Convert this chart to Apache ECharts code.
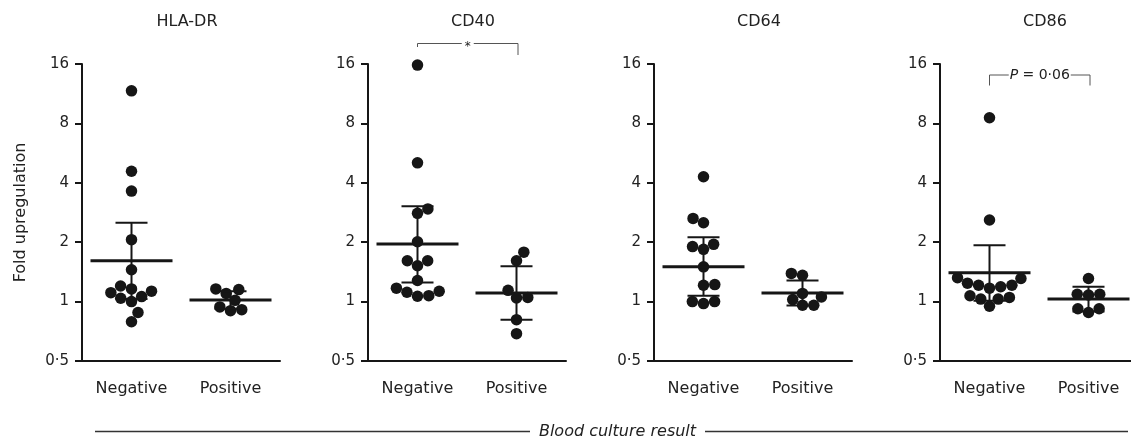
<!DOCTYPE html>
<html>
<head>
<meta charset="utf-8">
<script src="https://cdn.jsdelivr.net/npm/echarts@6/dist/echarts.min.js"></script>
<style>
html,body{margin:0;padding:0;background:#fff;}
#chart{width:1131px;height:439px;}
</style>
</head>
<body>
<div id="chart"></div>
<script>
// ---------- data ----------
const panels = ['HLA-DR', 'CD40', 'CD64', 'CD86'];
const groups = ['Negative', 'Positive'];
const yTicks = [0.5, 1, 2, 4, 8, 16];

const hlaNeg  = [11.7, 4.58, 3.63, 2.06, 1.45, 1.20, 1.16, 1.13, 1.11, 1.06, 1.04, 1.00, 0.88, 0.79];
const hlaPos  = [1.16, 1.15, 1.10, 1.015, 0.94, 0.91, 0.90];
const cd40Neg = [15.8, 5.05, 2.95, 2.80, 2.01, 1.61, 1.61, 1.52, 1.28, 1.17, 1.128, 1.115, 1.072, 1.064];
const cd40Pos = [1.78, 1.61, 1.14, 1.05, 1.044, 0.81, 0.688];
const cd64Neg = [4.29, 2.64, 2.51, 1.95, 1.90, 1.84, 1.50, 1.22, 1.21, 1.00, 1.00, 0.977];
const cd64Pos = [1.39, 1.36, 1.10, 1.056, 1.024, 0.958, 0.958];
const cd86Neg = [8.55, 2.59, 1.32, 1.31, 1.24, 1.21, 1.21, 1.19, 1.17, 1.07, 1.05, 1.03, 1.03, 0.947];
const cd86Pos = [1.31, 1.09, 1.08, 1.09, 0.92, 0.92, 0.88];

// geometric mean and 95% CI
const meanNeg = [1.61, 1.96, 1.50, 1.40];
const lowNeg  = [1.03, 1.25, 1.07, 1.01];
const highNeg = [2.51, 3.04, 2.12, 1.93];
const meanPos = [1.02, 1.107, 1.107, 1.03];
const lowPos  = [0.92, 0.81, 0.955, 0.89];
const highPos = [1.13, 1.51, 1.28, 1.19];

const sigLabels = ['', '*', '', 'P = 0·06'];
const axisTitle = 'Blood culture result';
const yTitle = 'Fold upregulation';

// ---------- layout / style ----------
const negValues = [hlaNeg, cd40Neg, cd64Neg, cd86Neg];
const posValues = [hlaPos, cd40Pos, cd64Pos, cd86Pos];
const FONT = '"DejaVu Sans", sans-serif';
const INK = '#161616';
const gridLeft = [82, 368, 654, 940];
const GRID_W = 198, GRID_TOP = 64, GRID_H = 297;
const DOT = 11.5;

const chart = echarts.init(document.getElementById('chart'), null, {renderer: 'canvas'});

const grids = [], xAxes = [], yAxes = [], series = [], titles = [];
const scatterRefs = [];
panels.forEach((name, i) => {
  grids.push({left: gridLeft[i], top: GRID_TOP, width: GRID_W, height: GRID_H, containLabel: false, outerBoundsMode: 'none'});
  titles.push({text: name, left: gridLeft[i] + GRID_W / 2 + 6, top: 14, padding: 0, textAlign: 'center',
    textStyle: {fontFamily: FONT, fontSize: 16, fontWeight: 'normal', color: '#222'}});
  xAxes.push({type: 'category', gridIndex: i, data: groups, boundaryGap: true,
    axisLine: {onZero: false, lineStyle: {color: INK, width: 2}},
    axisTick: {alignWithLabel: true, length: 5, lineStyle: {color: INK, width: 2}},
    axisLabel: {fontFamily: FONT, fontSize: 16, color: '#222', margin: 20},
    splitLine: {show: false}});
  xAxes.push({type: 'value', gridIndex: i, min: -0.5, max: 1.5, show: false});
  yAxes.push({type: 'log', logBase: 2, gridIndex: i, min: 0.5, max: 16,
    name: i === 0 ? yTitle : '', nameLocation: 'middle', nameGap: 53,
    nameTextStyle: {fontFamily: FONT, fontSize: 16, color: '#222'},
    axisLine: {show: true, onZero: false, lineStyle: {color: INK, width: 2}},
    axisTick: {show: true, length: 7, lineStyle: {color: INK, width: 2}},
    splitLine: {show: false},
    axisLabel: {fontFamily: FONT, fontSize: 15, color: '#222', margin: 13,
      formatter: v => String(+v.toPrecision(6)).replace('.', '·')}});
  [negValues[i], posValues[i]].forEach((vals, g) => {
    scatterRefs.push({index: series.length, g: g, vals: vals});
    series.push({type: 'scatter', xAxisIndex: 2 * i + 1, yAxisIndex: i,
      data: vals.map(v => [g, v]), symbol: 'circle', symbolSize: DOT,
      itemStyle: {color: INK, opacity: 1}, z: 2, silent: true});
  });
  series.push({type: 'custom', xAxisIndex: 2 * i + 1, yAxisIndex: i, z: 3, silent: true,
    encode: {x: 0, y: [1, 2, 3]},
    data: [[0, meanNeg[i], lowNeg[i], highNeg[i]], [1, meanPos[i], lowPos[i], highPos[i]]],
    renderItem: (params, api) => {
      const x = api.value(0);
      const pm = api.coord([x, api.value(1)]);
      const pl = api.coord([x, api.value(2)]);
      const ph = api.coord([x, api.value(3)]);
      const st = w => ({stroke: INK, lineWidth: w});
      return {type: 'group', children: [
        {type: 'line', shape: {x1: pm[0], y1: pl[1], x2: pm[0], y2: ph[1]}, style: st(2)},
        {type: 'line', shape: {x1: pm[0] - 16, y1: ph[1], x2: pm[0] + 16, y2: ph[1]}, style: st(2)},
        {type: 'line', shape: {x1: pm[0] - 16, y1: pl[1], x2: pm[0] + 16, y2: pl[1]}, style: st(2)},
        {type: 'line', shape: {x1: pm[0] - 41, y1: pm[1], x2: pm[0] + 41, y2: pm[1]}, style: st(3)}
      ]};
    }});
});

chart.setOption({
  animation: false,
  backgroundColor: '#fff',
  title: titles,
  grid: grids,
  xAxis: xAxes,
  yAxis: yAxes,
  series: series
});

// ---------- beeswarm spread of the dots (pixel space, via the chart's scales) ----------
// points are placed from the lowest value upwards, each as close to the centre as it can go
const D = 11.3;
const newSeries = series.map(() => ({}));
scatterRefs.forEach(ref => {
  const f = {seriesIndex: ref.index};
  const ppu = chart.convertToPixel(f, [1, 1])[0] - chart.convertToPixel(f, [0, 1])[0];
  const pts = ref.vals.map((v, k) => ({v, k, py: chart.convertToPixel(f, [ref.g, v])[1], x: 0}));
  pts.sort((a, b) => b.py - a.py);
  const placed = [];
  let flip = 1;
  pts.forEach(p => {
    const cands = [0];
    placed.forEach(q => {
      const dy = p.py - q.py;
      if (Math.abs(dy) < D) {
        const dx = Math.sqrt(D * D - dy * dy);
        cands.push(q.x + dx, q.x - dx);
      }
    });
    const ok = cands.filter(c => placed.every(q => (c - q.x) ** 2 + (p.py - q.py) ** 2 >= D * D - 0.01));
    ok.sort((a, b) => (Math.abs(a) - Math.abs(b)) || (b - a) * flip);
    p.x = ok[0];
    if (p.x !== 0) flip = -flip;
    placed.push(p);
  });
  const data = new Array(ref.vals.length);
  pts.forEach(p => { data[p.k] = [ref.g + p.x / ppu, p.v]; });
  newSeries[ref.index] = {data: data};
});

// ---------- annotations (brackets, shared x title) ----------
const tickX = (i, g) => chart.convertToPixel({xAxisIndex: 2 * i + 1}, g);
const graphics = [];
const GRAY = '#555';
const bracket = (i, yTop, dropL, dropR, half, textStyle) => {
  const L = tickX(i, 0), R = tickX(i, 1) + 1.5, C = (L + R) / 2;
  graphics.push({type: 'polyline', shape: {points: [[L, yTop + dropL], [L, yTop], [C - half, yTop]]},
    style: {stroke: GRAY, lineWidth: 1, fill: null}});
  graphics.push({type: 'polyline', shape: {points: [[C + half, yTop], [R, yTop], [R, yTop + dropR]]},
    style: {stroke: GRAY, lineWidth: 1, fill: null}});
  graphics.push({type: 'text', x: C, y: yTop, style: Object.assign({align: 'center', verticalAlign: 'middle', fill: '#222'}, textStyle)});
};
bracket(1, 43.5, 3.5, 11.5, 6, {text: sigLabels[1], font: '12px ' + FONT, y: 3});
bracket(3, 75, 10.5, 10.5, 31, {text: '{i|P} = 0·06', font: '14px ' + FONT,
  rich: {i: {fontStyle: 'italic', fontFamily: FONT, fontSize: 14}}});

graphics.push({type: 'line', shape: {x1: 95, y1: 431.5, x2: 530, y2: 431.5}, style: {stroke: '#333', lineWidth: 1.5}});
graphics.push({type: 'line', shape: {x1: 705, y1: 431.5, x2: 1128, y2: 431.5}, style: {stroke: '#333', lineWidth: 1.5}});
graphics.push({type: 'text', x: 617.5, y: 432, style: {text: axisTitle, font: 'italic 16px ' + FONT,
  align: 'center', verticalAlign: 'middle', fill: '#222'}});

chart.setOption({series: newSeries, graphic: graphics});
</script>
</body>
</html>
